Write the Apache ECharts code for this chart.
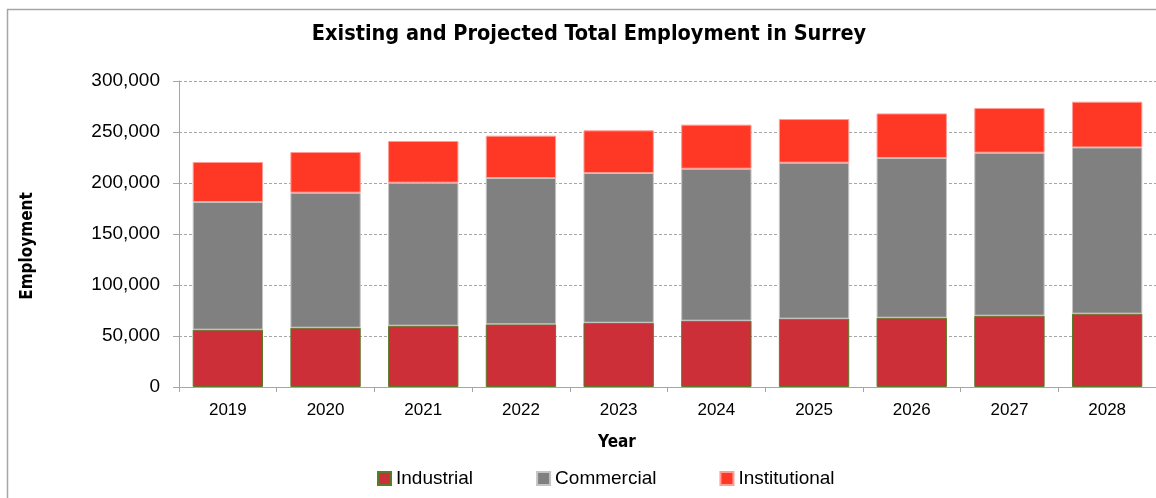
<!DOCTYPE html>
<html>
<head>
<meta charset="utf-8">
<script src="https://cdn.jsdelivr.net/npm/echarts@6/dist/echarts.min.js"></script>
<style>
  html, body { margin: 0; padding: 0; background: #fff; }
  #chart { width: 1156px; height: 498px; }
</style>
</head>
<body>
<div id="chart"></div>
<script>
// Surrey employment by sector, existing (2019) and projected
const years = ['2019', '2020', '2021', '2022', '2023', '2024', '2025', '2026', '2027', '2028'];
const industrial = [56200, 58100, 60100, 61400, 63000, 65000, 67000, 67900, 69900, 71900];
const commercial = [125200, 132400, 140200, 143500, 146800, 149000, 152900, 156600, 159800, 163000];
const institutional = [39200, 39900, 40900, 41500, 41800, 43200, 42800, 43700, 43800, 44800];
const yTicks = { min: 0, max: 300000, interval: 50000 };

const chart = echarts.init(document.getElementById('chart'));

const narrowFont = "'Liberation Sans Narrow', 'DejaVu Sans Condensed', sans-serif";
const bodyFont = "'Liberation Sans', Arial, sans-serif";
const axisGrey = '#a6a6a6';

function fmt(v) {
  return String(v).replace(/\B(?=(\d{3})+(?!\d))/g, ',');
}

chart.setOption({
  backgroundColor: '#ffffff',
  animation: false,
  title: {
    text: 'Existing and Projected Total Employment in Surrey',
    left: 584, top: 18, textAlign: 'center',
    textStyle: { fontFamily: narrowFont, fontSize: 21.5, fontWeight: 'bold', color: '#000' }
  },
  legend: {
    left: 372, top: 464,
    itemWidth: 13, itemHeight: 13, itemGap: 63,
    icon: 'rect',
    textStyle: { fontFamily: bodyFont, fontSize: 19, color: '#000' },
    data: ['Industrial', 'Commercial', 'Institutional']
  },
  grid: { left: 179, right: -1, top: 81, bottom: 111, containLabel: false },
  xAxis: {
    type: 'category',
    data: years,
    axisLine: { lineStyle: { color: axisGrey, width: 1 } },
    axisTick: { show: true, length: 5, lineStyle: { color: axisGrey } },
    axisLabel: { fontFamily: bodyFont, fontSize: 17, color: '#000', margin: 15 }
  },
  yAxis: {
    type: 'value',
    min: yTicks.min, max: yTicks.max, interval: yTicks.interval,
    axisLine: { show: true, lineStyle: { color: axisGrey, width: 1 } },
    axisTick: { show: true, length: 6, lineStyle: { color: axisGrey } },
    axisLabel: { fontFamily: bodyFont, fontSize: 19, color: '#000', margin: 19, formatter: fmt },
    splitLine: { show: true, lineStyle: { color: '#a6a6a6', type: [3, 2], width: 1 } }
  },
  graphic: [
    {
      type: 'rect', silent: true, z: -1,
      shape: { x: 7.5, y: 9.5, width: 1300, height: 700 },
      style: { fill: 'none', stroke: '#a6a6a6', lineWidth: 1.5 }
    },
    {
      type: 'text', silent: true,
      x: 617, y: 443,
      style: { text: 'Year', fontFamily: narrowFont, fontSize: 17, fontWeight: 'bold', fill: '#000',
               textAlign: 'center', textVerticalAlign: 'middle' }
    },
    {
      type: 'text', silent: true,
      x: 28, y: 246, rotation: Math.PI / 2,
      style: { text: 'Employment', fontFamily: narrowFont, fontSize: 17, fontWeight: 'bold', fill: '#000',
               textAlign: 'center', textVerticalAlign: 'middle' }
    }
  ],
  series: [
    {
      name: 'Industrial', type: 'bar', stack: 'total', barWidth: '72%',
      data: industrial,
      itemStyle: { color: '#cd2f38', borderColor: '#5b7a2a', borderWidth: 1 }
    },
    {
      name: 'Commercial', type: 'bar', stack: 'total', barWidth: '72%',
      data: commercial,
      itemStyle: { color: '#808080', borderColor: '#c4c4c4', borderWidth: 1 }
    },
    {
      name: 'Institutional', type: 'bar', stack: 'total', barWidth: '72%',
      data: institutional,
      itemStyle: { color: '#ff3826', borderColor: '#ff9c94', borderWidth: 1 }
    }
  ]
});
</script>
</body>
</html>
